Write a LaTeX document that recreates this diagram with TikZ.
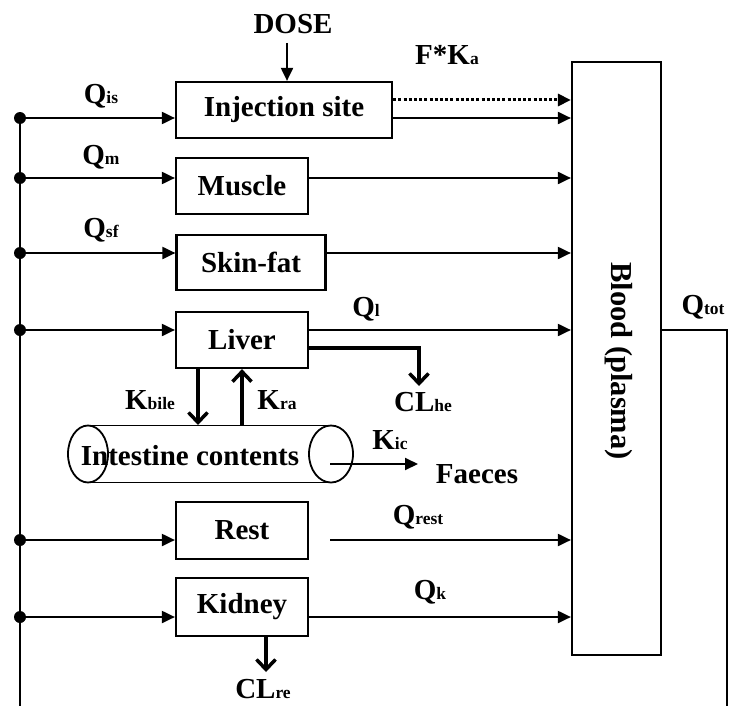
\documentclass[tikz,border=0pt]{standalone}
\usepackage{fontspec}
\setmainfont{Liberation Serif}
\usetikzlibrary{arrows.meta}
\newcommand\sbs[1]{{\fontsize{17.5}{17.5}\selectfont #1}}
\begin{document}
\begin{tikzpicture}[x=1pt,y=-1pt,
  font=\bfseries\fontsize{29}{31}\selectfont,
  box/.style={draw, line width=2.2pt, inner sep=0pt},
  flow/.style={line width=2pt, -{Triangle[length=13pt,width=12pt]}},
  thickflow/.style={line width=4pt, -{Straight Barb[length=10pt,width=19pt,line width=3.5pt]}},
  dotn/.style={circle, fill, inner sep=0pt, minimum size=12pt},
  lbl/.style={inner sep=0pt}]
\useasboundingbox (0,0) rectangle (735,706);

% boxes
\node[box, minimum width=216pt, minimum height=56pt] (inj) at (284,110) {Injection site};
\node[box, minimum width=132pt, minimum height=56pt] (mus) at (242,186) {Muscle};
\node[box, minimum width=149pt, minimum height=55pt] (skin) at (251,262.5) {Skin-fat};
\node[box, minimum width=132pt, minimum height=56pt] (liv) at (242,340) {Liver};
\node[box, minimum width=132pt, minimum height=57pt] (rest) at (242,530.5) {Rest};
\node[box, minimum width=132pt, minimum height=58pt] (kid) at (242,607) {Kidney};
\node[box, minimum width=89pt, minimum height=593pt] (blood) at (616.5,358.5) {};
\node[lbl, rotate=-90, font=\bfseries\fontsize{30.5}{32}\selectfont] (bloodtxt) at (619,361) {Blood (plasma)};

% dots on left trunk
\node[dotn] (d1) at (20,118) {};
\node[dotn] (d2) at (20,178) {};
\node[dotn] (d3) at (20,253) {};
\node[dotn] (d4) at (20,330) {};
\node[dotn] (d5) at (20,540) {};
\node[dotn] (d6) at (20,617) {};
\coordinate (lbot) at (20,706);
\draw[line width=2pt] (d1.center) -- (lbot);

% inflows
\draw[flow] (d1) -- (d1 -| inj.west);
\draw[flow] (d2) -- (d2 -| mus.west);
\draw[flow] (d3) -- (d3 -| skin.west);
\draw[flow] (d4) -- (d4 -| liv.west);
\draw[flow] (d5) -- (d5 -| rest.west);
\draw[flow] (d6) -- (d6 -| kid.west);

% outflows
\coordinate (dotY) at (392,100);
\draw[flow, line width=3pt, dash pattern=on 3pt off 2.2pt] (inj.east |- dotY) -- (dotY -| blood.west);
\draw[flow] (inj.east |- d1) -- (d1 -| blood.west);
\draw[flow] (mus.east |- d2) -- (d2 -| blood.west);
\draw[flow] (skin.east |- d3) -- (d3 -| blood.west);
\draw[flow] (liv.east |- d4) -- (d4 -| blood.west);
\coordinate (restout) at (330,540);
\draw[flow] (restout) -- (restout -| blood.west);
\draw[flow] (kid.east |- d6) -- (d6 -| blood.west);

% return from blood
\coordinate (rt) at (727,330);
\coordinate (rb) at (727,706);
\draw[line width=2pt] (blood.east |- rt) -- (rt) -- (rb);
\node[lbl] (qtot) at (703,307) {Q\sbs{tot}};

% dose
\node[lbl] (dose) at (293,24) {DOSE};
\coordinate (dosearr) at (287,43);
\draw[flow] (dosearr) -- (dosearr |- inj.north);

% labels
\node[lbl] (fka) at (447,55) {F*K\sbs{a}};
\node[lbl] (qis) at (101,96) {Q\sbs{is}};
\node[lbl] (qm) at (101,157) {Q\sbs{m}};
\node[lbl] (qsf) at (101,230) {Q\sbs{sf}};
\node[lbl] (ql) at (366,309) {Q\sbs{l}};
\node[lbl] (qrest) at (418,517) {Q\sbs{rest}};
\node[lbl] (qk) at (430,592) {Q\sbs{k}};

% intestine cylinder
\coordinate (cl) at (88,454);
\coordinate (cr) at (331,454);
\draw[line width=1.8pt] (88,425.5) -- (331,425.5) (88,482.5) -- (331,482.5);
\draw[line width=1.8pt] (cl) ellipse [x radius=20pt, y radius=28.5pt];
\draw[line width=1.8pt] (cr) ellipse [x radius=22pt, y radius=28.5pt];
\node[lbl] (intest) at (190,456) {Intestine contents};

% liver exchanges
\coordinate (kbtop) at (198,425);
\coordinate (kratop) at (242,425);
\draw[thickflow] (kbtop |- liv.south) -- (kbtop);
\draw[thickflow] (kratop) -- (liv.south);
\node[lbl] (kbile) at (150,400) {K\sbs{bile}};
\node[lbl] (kra) at (277,400) {K\sbs{ra}};

\coordinate (clc) at (419,348);
\coordinate (cle) at (419,386);
\draw[thickflow] (liv.east |- clc) -- (clc) -- (cle);
\node[lbl] (clhe) at (423,402) {CL\sbs{he}};

% faeces
\coordinate (fs) at (330,464);
\coordinate (fe) at (418,464);
\draw[flow] (fs) -- (fe);
\node[lbl] (kic) at (390,440) {K\sbs{ic}};
\node[lbl] (faeces) at (477,474) {Faeces};

% kidney clearance
\coordinate (cre) at (266,672);
\draw[thickflow] (kid.south -| cre) -- (cre);
\node[lbl] (clre) at (263,689) {CL\sbs{re}};
\end{tikzpicture}
\end{document}
